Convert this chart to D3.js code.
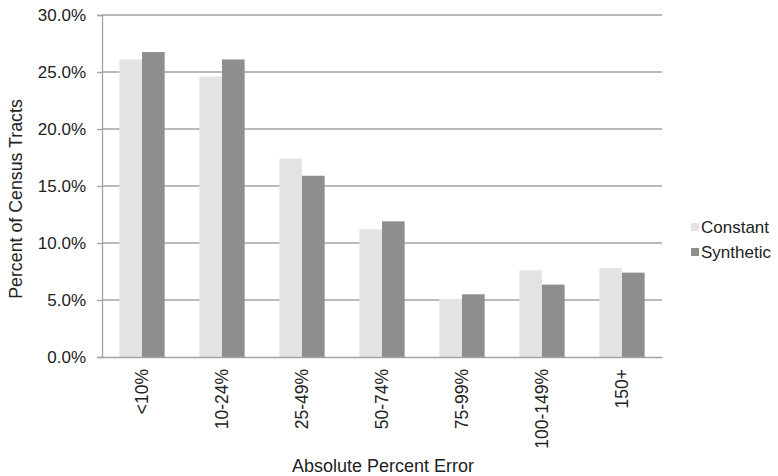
<!DOCTYPE html>
<html>
<head>
<meta charset="utf-8">
<script src="https://cdn.jsdelivr.net/npm/d3@7"></script>
<style>
  body { margin: 0; background: #fff; }
  text { font-family: "Liberation Sans", Arial, sans-serif; fill: #222; }
</style>
</head>
<body>
<svg id="chart" width="778" height="476"></svg>
<script>
// Share of census tracts by absolute percent error band
const categories = ["<10%", "10-24%", "25-49%", "50-74%", "75-99%", "100-149%", "150+"];
const seriesNames = ["Constant", "Synthetic"];
const constantValues = [26.1, 24.6, 17.4, 11.2, 5.1, 7.6, 7.8];
const syntheticValues = [26.75, 26.1, 15.9, 11.9, 5.5, 6.35, 7.4];
const yTicks = [0, 5, 10, 15, 20, 25, 30];
const colors = ["#e3e3e3", "#8e8e8e"];

const svg = d3.select("#chart");
const margin = { left: 102, right: 116, top: 15, bottom: 119 };
const W = 778, H = 476;

const x = d3.scaleBand().domain(categories)
  .range([margin.left, W - margin.right]).paddingInner(0.434).paddingOuter(0.217);
const xs = d3.scaleBand().domain(seriesNames).range([0, x.bandwidth()]);
const y = d3.scaleLinear().domain([0, 30]).range([H - margin.bottom, margin.top]);

// gridlines
svg.append("g").selectAll("line").data(yTicks.slice(1)).join("line")
  .attr("x1", margin.left).attr("x2", W - margin.right)
  .attr("y1", d => y(d)).attr("y2", d => y(d))
  .attr("stroke", "#a3a3a3").attr("stroke-width", 1.3);

// y axis
const yAxis = svg.append("g").attr("transform", `translate(${margin.left},0)`)
  .call(d3.axisLeft(y).tickValues(yTicks).tickFormat(d => d.toFixed(1) + "%").tickSize(5).tickPadding(11));
yAxis.select(".domain").attr("stroke", "#a3a3a3").attr("stroke-width", 1.3);
yAxis.selectAll(".tick line").attr("stroke", "#a3a3a3").attr("stroke-width", 1.3);
yAxis.selectAll(".tick text").attr("font-size", 17).attr("fill", "#222")
  .attr("font-family", "Liberation Sans, Arial, sans-serif");

// bars
const rows = categories.map((c, i) => ({ c, vals: [constantValues[i], syntheticValues[i]] }));
svg.append("g").selectAll("g").data(rows).join("g")
  .attr("transform", d => `translate(${x(d.c)},0)`)
  .selectAll("rect").data(d => d.vals.map((v, k) => ({ v, k })))
  .join("rect")
  .attr("x", d => xs(seriesNames[d.k]))
  .attr("width", xs.bandwidth())
  .attr("y", d => y(d.v))
  .attr("height", d => y(0) - y(d.v))
  .attr("fill", d => colors[d.k]);

// x axis
const xAxis = svg.append("g").attr("transform", `translate(0,${y(0)})`)
  .call(d3.axisBottom(x).tickSize(0).tickPadding(0));
xAxis.select(".domain").attr("stroke", "#a3a3a3").attr("stroke-width", 1.3);
xAxis.selectAll(".tick text")
  .attr("transform", "rotate(-90)")
  .attr("x", -12).attr("y", 0).attr("dy", "0.35em")
  .attr("text-anchor", "end")
  .attr("font-size", 17.5).attr("fill", "#222")
  .attr("font-family", "Liberation Sans, Arial, sans-serif");

// axis titles
svg.append("text").attr("x", (margin.left + W - margin.right) / 2 + 1).attr("y", 472)
  .attr("text-anchor", "middle").attr("font-size", 18).text("Absolute Percent Error");
svg.append("text").attr("transform", `translate(22,199) rotate(-90)`)
  .attr("text-anchor", "middle").attr("font-size", 17.8).text("Percent of Census Tracts");

// legend
const legend = svg.append("g").attr("transform", "translate(691,222)");
seriesNames.forEach((s, i) => {
  const g = legend.append("g").attr("transform", `translate(0,${i * 25})`);
  g.append("rect").attr("width", 8).attr("height", 8).attr("y", 1).attr("fill", colors[i]);
  g.append("text").attr("x", 10).attr("y", 5).attr("dy", "0.35em").attr("font-size", 17).text(s);
});
</script>
</body>
</html>
